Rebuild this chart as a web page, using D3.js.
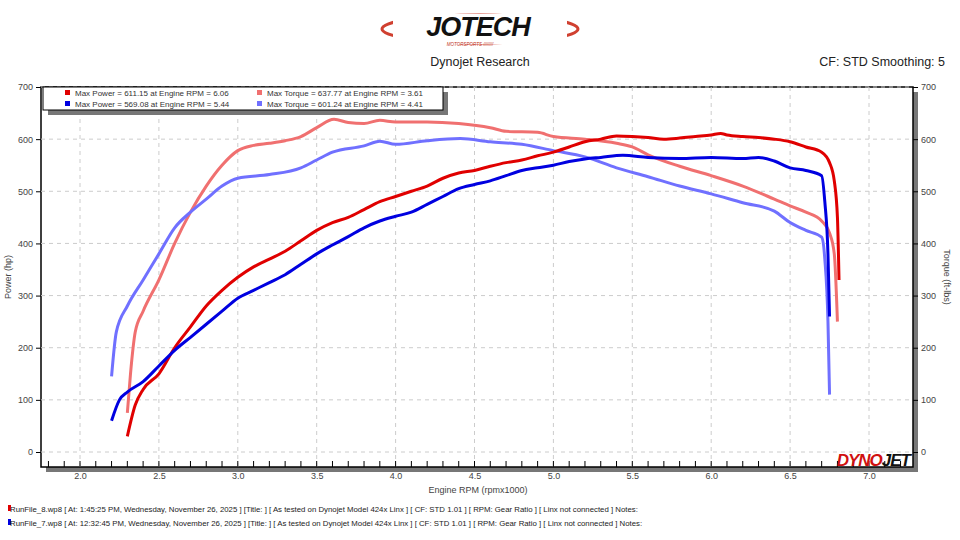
<!DOCTYPE html>
<html><head><meta charset="utf-8">
<script src="https://cdn.jsdelivr.net/npm/d3@7"></script>
<style>body{margin:0;background:#fff;font-family:"Liberation Sans","DejaVu Sans",sans-serif}</style>
</head><body><svg id="c" width="960" height="540"></svg>
<script>
const powerRed=[[2.3,30],[2.35,90],[2.4,120],[2.5,150],[2.6,200],[2.7,240],[2.8,280],[2.9,310],[3.0,335],[3.1,355],[3.2,370],[3.3,385],[3.4,405],[3.5,425],[3.6,440],[3.7,450],[3.8,465],[3.9,480],[4.0,490],[4.1,500],[4.2,510],[4.3,525],[4.4,535],[4.5,540],[4.6,548],[4.7,555],[4.8,560],[4.9,568],[5.0,575],[5.1,585],[5.2,595],[5.3,600],[5.4,606],[5.5,605],[5.6,603],[5.7,600],[5.8,602],[5.9,605],[6.0,608],[6.06,611],[6.1,608],[6.2,605],[6.3,603],[6.4,600],[6.5,595],[6.6,585],[6.7,575],[6.75,555],[6.78,520],[6.8,450],[6.81,330]];
const powerBlue=[[2.2,60],[2.25,100],[2.3,115],[2.4,135],[2.5,165],[2.6,195],[2.7,220],[2.8,245],[2.9,270],[3.0,295],[3.1,310],[3.2,325],[3.3,340],[3.4,360],[3.5,380],[3.6,397],[3.7,413],[3.8,430],[3.9,443],[4.0,452],[4.1,460],[4.2,475],[4.3,490],[4.4,505],[4.5,513],[4.6,520],[4.7,530],[4.8,540],[4.9,545],[5.0,550],[5.1,557],[5.2,562],[5.3,565],[5.44,569],[5.6,565],[5.8,563],[6.0,565],[6.2,563],[6.3,565],[6.4,558],[6.5,545],[6.6,540],[6.7,530],[6.72,480],[6.74,380],[6.75,260]];
const torqueRed=[[2.3,75],[2.32,150],[2.35,230],[2.4,270],[2.5,330],[2.6,400],[2.7,460],[2.8,510],[2.9,550],[3.0,578],[3.1,588],[3.2,592],[3.3,597],[3.4,605],[3.5,622],[3.61,638],[3.7,632],[3.8,630],[3.9,636],[4.0,633],[4.2,633],[4.4,630],[4.6,622],[4.7,615],[4.9,613],[5.0,605],[5.2,600],[5.4,592],[5.5,585],[5.6,570],[5.8,548],[6.0,530],[6.2,510],[6.4,485],[6.5,472],[6.6,460],[6.7,443],[6.75,420],[6.78,380],[6.8,250]];
const torqueBlue=[[2.2,145],[2.23,230],[2.3,280],[2.4,330],[2.5,380],[2.6,430],[2.7,460],[2.8,485],[2.9,510],[3.0,525],[3.2,532],[3.4,545],[3.5,560],[3.6,575],[3.8,587],[3.9,596],[4.0,590],[4.2,597],[4.41,601],[4.6,595],[4.8,590],[5.0,578],[5.2,566],[5.4,545],[5.6,528],[5.8,510],[6.0,495],[6.2,478],[6.4,462],[6.5,440],[6.6,425],[6.7,412],[6.72,370],[6.74,250],[6.75,110]];
const xTicks=[2.0,2.5,3.0,3.5,4.0,4.5,5.0,5.5,6.0,6.5,7.0];
const yTicks=[0,100,200,300,400,500,600,700];
const legendItems=[["Max Power = 611.15 at Engine RPM = 6.06","#e00000"],["Max Torque = 637.77 at Engine RPM = 3.61","#f07070"],["Max Power = 569.08 at Engine RPM = 5.44","#0000e0"],["Max Torque = 601.24 at Engine RPM = 4.41","#7070ff"]];
const runLines=[["RunFile_8.wp8 [ At: 1:45:25 PM, Wednesday, November 26, 2025 ] [Title: ]  [ As tested on Dynojet Model 424x Linx ] [ CF: STD 1.01 ] [ RPM: Gear Ratio ] [ Linx not connected ] Notes:","#e00000"],["RunFile_7.wp8 [ At: 12:32:45 PM, Wednesday, November 26, 2025 ] [Title: ]  [ As tested on Dynojet Model 424x Linx ] [ CF: STD 1.01 ] [ RPM: Gear Ratio ] [ Linx not connected ] Notes:","#0000e0"]];

const svg=d3.select("#c");
const L=41,R=913,T=87,B=467;
const x=d3.scaleLinear().domain([2.0-39/157.8,7.0+44/157.8]).range([L,R]);
const y=d3.scaleLinear().domain([0,700]).range([452,87]);
svg.append("rect").attr("x",L+5).attr("y",T+5).attr("width",R-L).attr("height",B-T).attr("fill","#777");
svg.append("rect").attr("x",L).attr("y",T).attr("width",R-L).attr("height",B-T).attr("fill","#fff").attr("stroke","#000").attr("stroke-width",1.5);
const g=svg.append("g");
xTicks.forEach(t=>g.append("line").attr("x1",x(t)).attr("x2",x(t)).attr("y1",T).attr("y2",B).attr("stroke","#ccc").attr("stroke-dasharray","4,4"));
yTicks.forEach(t=>g.append("line").attr("x1",L).attr("x2",R).attr("y1",y(t)).attr("y2",y(t)).attr("stroke","#ccc").attr("stroke-dasharray","4,4"));
d3.range(1.8,7.3,0.1).forEach(t=>{if(x(t)>L&&x(t)<R)g.append("line").attr("x1",x(t)).attr("x2",x(t)).attr("y1",B).attr("y2",B-6).attr("stroke","#000");});
const ax=svg.append("g").attr("transform",`translate(0,${B+3})`).call(d3.axisBottom(x).tickValues(xTicks).tickFormat(d3.format(".1f")).tickSize(0));
ax.select(".domain").remove();
ax.selectAll("text").attr("font-size",9).attr("fill","#444").attr("dy","0.71em");
const al=svg.append("g").attr("transform",`translate(${L},0)`).call(d3.axisLeft(y).tickValues(yTicks).tickSize(5));
const ar=svg.append("g").attr("transform",`translate(${R},0)`).call(d3.axisRight(y).tickValues(yTicks).tickSize(5));
[al,ar].forEach(a=>{a.select(".domain").remove();a.selectAll("text").attr("font-size",9).attr("fill","#444");});
const line=d3.line().x(d=>x(d[0])).y(d=>y(d[1])).curve(d3.curveMonotoneX);
[[torqueRed,"#f07070"],[torqueBlue,"#7070ff"],[powerRed,"#e00000"],[powerBlue,"#0000e0"]].forEach(([d,c])=>g.append("path").datum(d).attr("d",line).attr("fill","none").attr("stroke",c).attr("stroke-width",3));
svg.append("rect").attr("x",48).attr("y",92).attr("width",400).attr("height",23).attr("fill","#777");
svg.append("rect").attr("x",43).attr("y",87).attr("width",400).attr("height",23).attr("fill","#fff").attr("stroke","#000");
legendItems.forEach((it,i)=>{const lx=i%2?257:65,ly=i<2?93:104;
 svg.append("rect").attr("x",lx).attr("y",ly-3).attr("width",5).attr("height",5).attr("fill",it[1]);
 svg.append("text").attr("x",lx+10).attr("y",ly+2.5).attr("font-size",8).attr("fill","#333").text(it[0]);});
svg.append("text").attr("x",478).attr("y",493).attr("text-anchor","middle").attr("font-size",9).attr("fill","#444").text("Engine RPM (rpmx1000)");
svg.append("text").attr("transform","translate(11,277) rotate(-90)").attr("text-anchor","middle").attr("font-size",9).attr("fill","#444").text("Power (hp)");
svg.append("text").attr("transform","translate(944,277) rotate(90)").attr("text-anchor","middle").attr("font-size",9).attr("fill","#444").text("Torque (ft-lbs)");
svg.append("text").attr("x",480).attr("y",66).attr("text-anchor","middle").attr("font-size",12.5).attr("fill","#222").text("Dynojet Research");
svg.append("text").attr("x",945).attr("y",66).attr("text-anchor","end").attr("font-size",12.5).attr("fill","#222").text("CF: STD Smoothing: 5");
svg.append("ellipse").attr("cx",480).attr("cy",29).attr("rx",98).attr("ry",14).attr("fill","none").attr("stroke","#d04030").attr("stroke-width",3);
svg.append("rect").attr("x",393).attr("y",14).attr("width",174).attr("height",30).attr("fill","#fff");
svg.append("text").attr("x",478).attr("y",36).attr("text-anchor","middle").attr("font-size",27).attr("font-style","italic").attr("font-weight","bold").attr("fill","#111").attr("letter-spacing","-1").text("JOTECH");
svg.append("text").attr("x",470).attr("y",46).attr("text-anchor","middle").attr("font-size",4.5).attr("font-style","italic").attr("fill","#c03020").text("MOTORSPORTS ////////");
svg.append("text").attr("x",910).attr("y",466).attr("text-anchor","end").attr("font-size",17).attr("font-style","italic").attr("font-weight","bold").attr("letter-spacing","-1").html('<tspan fill="#d01010">DYNO</tspan><tspan fill="#111">JET</tspan>');
runLines.forEach((r,i)=>{const ry=512+i*14;
 svg.append("rect").attr("x",8).attr("y",ry-7).attr("width",3).attr("height",6).attr("fill",r[1]);
 svg.append("text").attr("x",10).attr("y",ry).attr("font-size",7.8).attr("fill","#222").text(r[0]);});
</script></body></html>
